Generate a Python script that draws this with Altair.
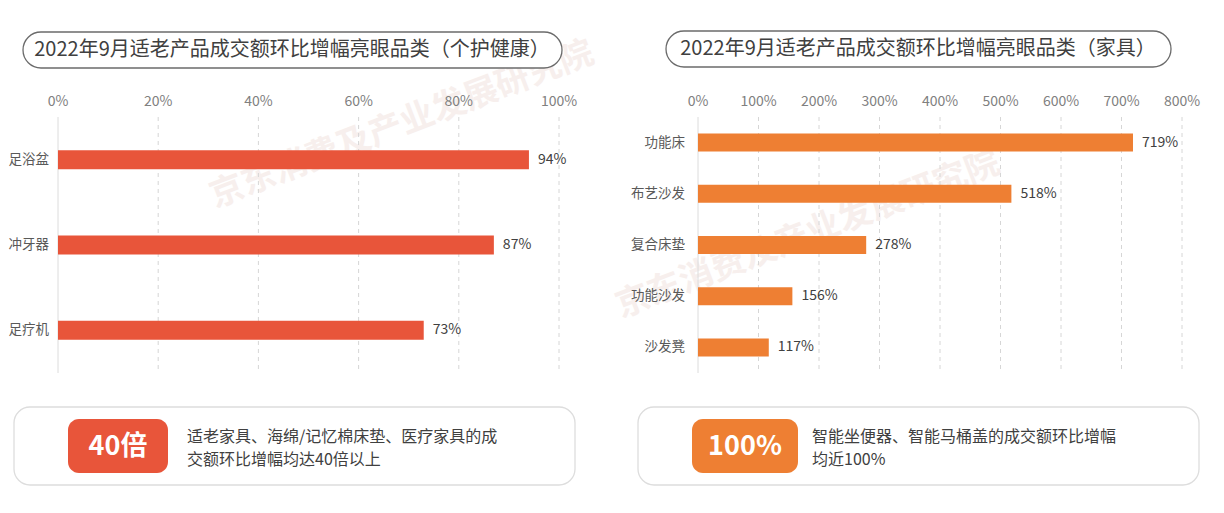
import altair as alt
import pandas as pd

FONT = "Noto Sans CJK SC"

left_title = "2022年9月适老产品成交额环比增幅亮眼品类（个护健康）"
right_title = "2022年9月适老产品成交额环比增幅亮眼品类（家具）"

left_cats = ["足浴盆", "冲牙器", "足疗机"]
left_vals = [94, 87, 73]
left_ticks = [0, 20, 40, 60, 80, 100]

right_cats = ["功能床", "布艺沙发", "复合床垫", "功能沙发", "沙发凳"]
right_vals = [719, 518, 278, 156, 117]
right_ticks = [0, 100, 200, 300, 400, 500, 600, 700, 800]

left_badge = "40倍"
left_note = ["适老家具、海绵/记忆棉床垫、医疗家具的成", "交额环比增幅均达40倍以上"]
right_badge = "100%"
right_note = ["智能坐便器、智能马桶盖的成交额环比增幅", "均近100%"]
watermark = "京东消费及产业发展研究院"

LEFT_COLOR = "#E8553A"
RIGHT_COLOR = "#EE7F33"

one = pd.DataFrame({"a": [0]})


def panel(cats, vals, ticks, dom, rng, color, label_x, bar_h):
    xs = alt.Scale(domain=dom, range=rng, nice=False, zero=True)
    ys = alt.Scale(domain=cats, range=[109, 365], paddingInner=0, paddingOuter=0)
    df = pd.DataFrame({"cat": cats, "val": vals, "label": [f"{v}%" for v in vals]})
    tdf = pd.DataFrame({"t": ticks, "tl": [f"{t}%" for t in ticks]})
    X_t = alt.X("t:Q", scale=xs, axis=None)
    grid0 = alt.Chart(tdf).transform_filter("datum.t == 0").mark_rule(
        color="#dcdcdc", strokeWidth=1
    ).encode(x=X_t, y=alt.value(109), y2=alt.value(365))
    grid = alt.Chart(tdf).transform_filter("datum.t > 0").mark_rule(
        color="#d6d6d6", strokeWidth=1, strokeDash=[4, 4]
    ).encode(x=X_t, y=alt.value(109), y2=alt.value(365))
    tlabels = alt.Chart(tdf).mark_text(
        font=FONT, fontSize=14, color="#808080", baseline="middle", align="center"
    ).encode(x=X_t, y=alt.value(94), text="tl:N")
    X_v = alt.X("val:Q", scale=xs, axis=None)
    Y_c = alt.Y("cat:N", scale=ys, sort=cats, axis=None)
    bars = alt.Chart(df).mark_bar(height=bar_h, color=color).encode(x=X_v, y=Y_c)
    vlabels = alt.Chart(df).mark_text(
        font=FONT, fontSize=14, color="#404040", align="left", baseline="middle", dx=9
    ).encode(x=X_v, y=Y_c, text="label:N")
    clabels = alt.Chart(df).mark_text(
        font=FONT, fontSize=13.5, color="#595959", align="right", baseline="middle"
    ).encode(x=alt.value(label_x), y=Y_c, text="cat:N")
    return alt.layer(grid0, grid, tlabels, bars, vlabels, clabels)


def rect(x, x2, y, y2, **kw):
    return alt.Chart(one).mark_rect(**kw).encode(
        x=alt.value(x), x2=alt.value(x2), y=alt.value(y), y2=alt.value(y2)
    )


def text(x, y, s, **kw):
    return alt.Chart(one).mark_text(font=FONT, baseline="middle", **kw).encode(
        x=alt.value(x), y=alt.value(y), text=alt.value(s)
    )


wm = [
    text(394, 117, watermark, fontSize=34, fontWeight="bold", color="#f7efed", angle=339, align="center"),
    text(800, 227, watermark, fontSize=34, fontWeight="bold", color="#f7efed", angle=339, align="center"),
]

deco = [
    rect(15, 554, 24, 60, fill="white", stroke="#6b6b6b", strokeWidth=1.3, cornerRadius=18),
    text(284, 42, left_title, fontSize=20, color="#404040", align="center"),
    rect(658, 1163, 23, 59, fill="white", stroke="#6b6b6b", strokeWidth=1.3, cornerRadius=18),
    text(910, 41, right_title, fontSize=20, color="#404040", align="center"),
    rect(6, 567, 399, 477, fill="white", stroke="#dddddd", strokeWidth=1.3, cornerRadius=16),
    rect(60, 160, 411, 465, fill=LEFT_COLOR, cornerRadius=11),
    text(110, 439, left_badge, fontSize=27, fontWeight="bold", color="white", align="center"),
    text(179, 429, left_note[0], fontSize=16, color="#404040", align="left"),
    text(179, 452, left_note[1], fontSize=16, color="#404040", align="left"),
    rect(630, 1191, 399, 477, fill="white", stroke="#dddddd", strokeWidth=1.3, cornerRadius=16),
    rect(684, 790, 411, 465, fill=RIGHT_COLOR, cornerRadius=11),
    text(737, 439, right_badge, fontSize=27, fontWeight="bold", color="white", align="center"),
    text(804, 429, right_note[0], fontSize=16, color="#404040", align="left"),
    text(804, 452, right_note[1], fontSize=16, color="#404040", align="left"),
]

left_panel = panel(left_cats, left_vals, left_ticks, [0, 100], [50, 551], LEFT_COLOR, 41, 19)
right_panel = panel(right_cats, right_vals, right_ticks, [0, 800], [690, 1174], RIGHT_COLOR, 677, 18)

chart = alt.layer(*wm, *deco, left_panel, right_panel).resolve_scale(
    x="independent", y="independent"
).properties(
    width=1208, height=497, padding=0,
    autosize=alt.AutoSizeParams(type="none"),
    background="white",
).configure_view(stroke=None)

chart.save("out.html", embed_options={"renderer": "svg", "actions": False})
